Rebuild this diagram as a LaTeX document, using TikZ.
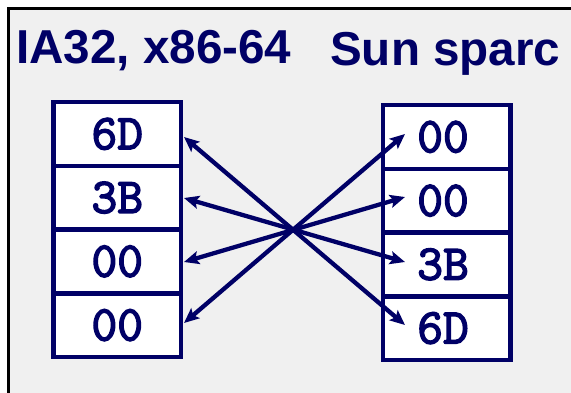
\documentclass[tikz,border=0pt]{standalone}
\usepackage{fontspec}
\setmainfont{Liberation Sans}
\newfontfamily\cellfont[FakeBold=3]{Latin Modern Mono}
\usetikzlibrary{arrows.meta}
\definecolor{navy}{RGB}{0,0,102}
\definecolor{panel}{RGB}{240,240,240}
\begin{document}
\begin{tikzpicture}[x=1pt,y=-1pt,
  cell/.style={draw=navy, line width=4.5pt, fill=white, minimum width=127.5pt,
    minimum height=63.75pt, inner sep=0pt, outer sep=0pt, text=navy,
    font=\cellfont\fontsize{50}{50}\selectfont},
  link/.style={draw=navy, line width=4.3pt, {Stealth[length=15pt,width=13pt,inset=3pt]}-{Stealth[length=15pt,width=13pt,inset=3pt]}},
  heading/.style={text=navy, font=\fontsize{47.6}{47.6}\selectfont\bfseries, inner sep=0pt, anchor=base west}]
\useasboundingbox (0,0) rectangle (571,392);
\fill[white] (0,0) rectangle (571,392);
\clip (0,0) rectangle (571,392);
\draw[black, line width=2.5pt, fill=panel] (8.5,8.5) rectangle (590,410);
\node[heading] (t1) at (16,63) {IA32, x86-64};
\node[heading] (t2) at (330,65) {Sun sparc};
% left column
\node[cell] (l1) at (117.25,133.875) {6D};
\node[cell] (l2) at (117.25,197.625) {3B};
\node[cell] (l3) at (117.25,261.375) {00};
\node[cell] (l4) at (117.25,325.125) {00};
% right column
\node[cell] (r1) at (446.5,136.875) {00\kern7pt};
\node[cell] (r2) at (446.5,200.625) {00\kern7pt};
\node[cell] (r3) at (446.5,264.375) {3B\kern7pt};
\node[cell] (r4) at (446.5,328.125) {6D\kern7pt};
% arrow ends
\coordinate (a1) at (184,137);
\coordinate (a2) at (184,198);
\coordinate (a3) at (184,262);
\coordinate (a4) at (184,323);
\coordinate (b1) at (405,134);
\coordinate (b2) at (405,197);
\coordinate (b3) at (405,262);
\coordinate (b4) at (405,325);
\draw[link] (a1) -- (b4);
\draw[link] (a2) -- (b3);
\draw[link] (a3) -- (b2);
\draw[link] (a4) -- (b1);
\end{tikzpicture}
\end{document}
